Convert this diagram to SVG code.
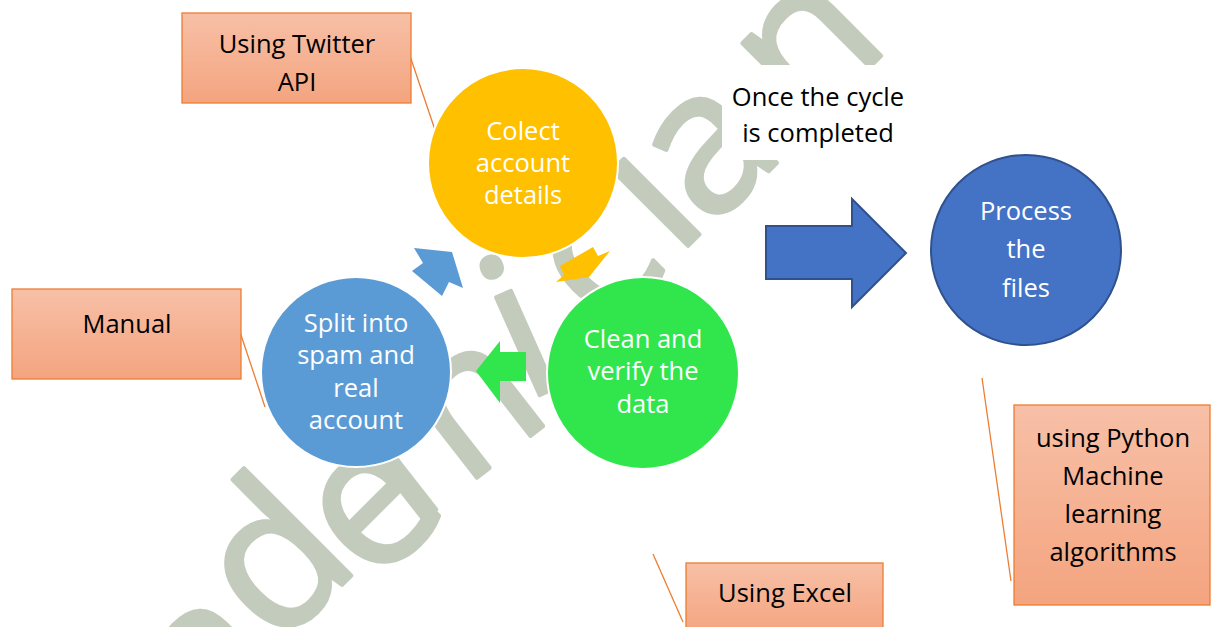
<svg xmlns="http://www.w3.org/2000/svg" width="1211" height="627" viewBox="0 0 1211 627">
  <defs>
    <linearGradient id="boxGrad" x1="0" y1="0" x2="0" y2="1">
      <stop offset="0" stop-color="#f7c0a7"/>
      <stop offset="1" stop-color="#f4a47f"/>
    </linearGradient>
    <style>
      .box { fill: url(#boxGrad); stroke: #ed7d31; stroke-width: 1.3; }
      .lead { stroke: #ed7d31; stroke-width: 1.3; fill: none; }
      .lbl { font-family: "Open Sans", "Noto Sans", sans-serif; font-size: 25.5px; text-anchor: middle; fill: #000; }
      .inner { font-family: "Open Sans", "Noto Sans", sans-serif; font-size: 25.5px; text-anchor: middle; fill: #fff; }
      .wm { font-family: "Open Sans", "Noto Sans", sans-serif; font-size: 200px; fill: #c3cbbc; stroke: #c3cbbc; stroke-width: 4; stroke-linejoin: round; }
      .ring { stroke: #fff; stroke-width: 2; }
    </style>
  </defs>

  <rect width="1211" height="627" fill="#fff"/>

  <!-- watermark lettering along the diagonal -->
  <g id="watermark">
    <text class="wm" transform="translate(210,742) rotate(-45)">a</text>
    <text class="wm" transform="translate(277,650) rotate(-45)">d</text>
    <text class="wm" transform="translate(374,588) rotate(-45)">e</text>
    <text class="wm" transform="translate(410,530) rotate(-38)">m</text>
    <text class="wm" transform="translate(524,402) rotate(-24)">i</text>
    <text class="wm" transform="translate(604,335) rotate(-45)">c</text>
    <text class="wm" transform="translate(676,258) rotate(-45)">i</text>
    <text class="wm" transform="translate(710,230) rotate(-45)">a</text>
    <text class="wm" transform="translate(806,131) rotate(-45)">n</text>
  </g>

  <!-- leader lines from notes to their steps -->
  <g id="connectors">
    <line class="lead" x1="407" y1="47" x2="435" y2="130"/>
    <line class="lead" x1="237" y1="323" x2="265" y2="407"/>
    <line class="lead" x1="653" y1="554" x2="683" y2="622"/>
    <line class="lead" x1="982" y1="378" x2="1011" y2="581"/>
    <!-- cycle arrows -->
    <polygon points="452,252 463,288 449,282 442,296 412,271 423,263 414,248" fill="#5b9bd5"/>
    <polygon points="560,266 593,247 598,256 610,251 589,277 556,282 564,275" fill="#ffc000"/>
    <polygon points="476,371 500,341 500,352 526,352 526,381 500,381 500,403" fill="#30e64c"/>
    <!-- block arrow to processing -->
    <polygon points="766,226 852,226 852,199 906,253 852,307 852,279 766,279" fill="#4472c4" stroke="#2f528f" stroke-width="2"/>
  </g>

  <g id="note-twitter">
    <rect class="box" x="182" y="13" width="229" height="90"/>
    <text class="lbl" x="297" y="53">Using Twitter</text>
    <text class="lbl" x="297" y="91">API</text>
  </g>

  <g id="note-manual">
    <rect class="box" x="12" y="289" width="229" height="90"/>
    <text class="lbl" x="127" y="333">Manual</text>
  </g>

  <g id="note-excel">
    <rect class="box" x="686" y="563" width="197" height="70"/>
    <text class="lbl" x="785" y="602">Using Excel</text>
  </g>

  <g id="note-python">
    <rect class="box" x="1014" y="405" width="196" height="200"/>
    <text class="lbl" x="1113" y="447">using Python</text>
    <text class="lbl" x="1113" y="485">Machine</text>
    <text class="lbl" x="1113" y="523">learning</text>
    <text class="lbl" x="1113" y="561">algorithms</text>
  </g>

  <g id="note-cycle">
    <rect x="722" y="65" width="190" height="95" fill="#fff"/>
    <text class="lbl" x="818" y="106">Once the cycle</text>
    <text class="lbl" x="818" y="142">is completed</text>
  </g>

  <g id="step-collect">
    <circle class="ring" cx="523" cy="163" r="95" fill="#ffc000"/>
    <text class="inner" x="523" y="140">Colect</text>
    <text class="inner" x="523" y="172">account</text>
    <text class="inner" x="523" y="204">details</text>
  </g>

  <g id="step-split">
    <circle class="ring" cx="356" cy="372" r="95" fill="#5b9bd5"/>
    <text class="inner" x="356" y="332">Split into</text>
    <text class="inner" x="356" y="364">spam and</text>
    <text class="inner" x="356" y="397">real</text>
    <text class="inner" x="356" y="429">account</text>
  </g>

  <g id="step-clean">
    <circle class="ring" cx="643" cy="373" r="96" fill="#30e64c"/>
    <text class="inner" x="643" y="348">Clean and</text>
    <text class="inner" x="643" y="380">verify the</text>
    <text class="inner" x="643" y="413">data</text>
  </g>

  <g id="step-process">
    <ellipse cx="1026" cy="250" rx="95" ry="95" fill="#4472c4" stroke="#2f528f" stroke-width="2"/>
    <text class="inner" x="1026" y="220">Process</text>
    <text class="inner" x="1026" y="258">the</text>
    <text class="inner" x="1026" y="297">files</text>
  </g>
</svg>
